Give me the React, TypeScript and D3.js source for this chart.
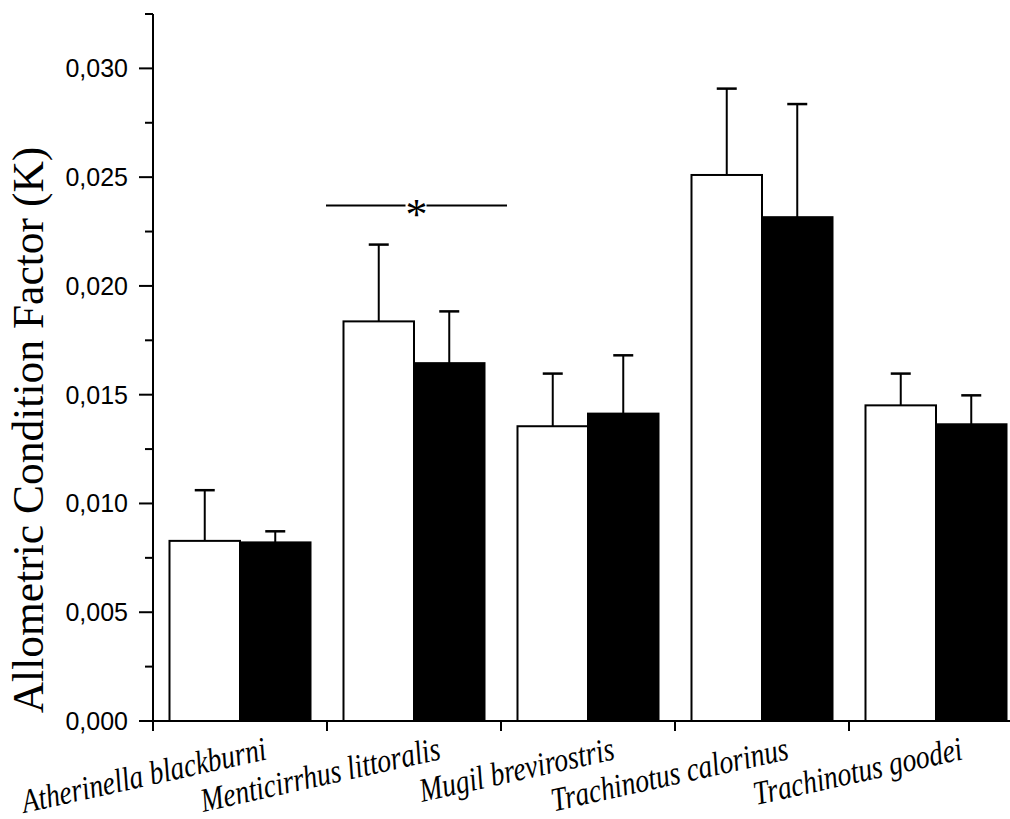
import React from "react";
import * as d3 from "d3";

const categories = [
  "Atherinella blackburni",
  "Menticirrhus littoralis",
  "Mugil brevirostris",
  "Trachinotus calorinus",
  "Trachinotus goodei",
];
const seriesNames = ["open", "filled"];
const openValues = [0.00828, 0.01837, 0.01355, 0.0251, 0.01451];
const openErrors = [0.00233, 0.00353, 0.00242, 0.00397, 0.00146];
const filledValues = [0.00821, 0.01645, 0.01413, 0.02316, 0.01364];
const filledErrors = [0.00051, 0.00238, 0.00268, 0.0052, 0.00133];
const majorTicks = [0, 0.005, 0.01, 0.015, 0.02, 0.025, 0.03];
const minorTicks = [0.0025, 0.0075, 0.0125, 0.0175, 0.0225, 0.0275, 0.0325];
const yLabel = "Allometric Condition Factor (K)";
const sigCategory = "Menticirrhus littoralis";
const sigValue = 0.0237;

const fmt = (v: number) => v.toFixed(3).replace(".", ",");

export default function App() {
  const W = 1010;
  const H = 819;
  const left = 153;
  const bottom = 721;
  const y = d3.scaleLinear().domain([0, 0.0325]).range([bottom, 14]);
  const x0 = d3.scaleBand<string>().domain(categories).range([left, left + 174 * 5]).padding(0);
  const x1 = d3
    .scaleBand<string>()
    .domain(seriesNames)
    .range([0, x0.bandwidth()])
    .paddingInner(0)
    .paddingOuter(0.234);

  const series = [
    { name: "open", values: openValues, errors: openErrors, fill: "#ffffff" },
    { name: "filled", values: filledValues, errors: filledErrors, fill: "#000000" },
  ];

  const xTicks = categories.map((c) => x0(c) as number);
  const sigCenter = (x0(sigCategory) as number) + x0.bandwidth() / 2 + 2.5;
  const sigY = y(sigValue);

  return (
    <svg
      width={W}
      height={H}
      style={{ position: "absolute", left: 0, top: 0, background: "#fff" }}
    >
      <rect x={0} y={0} width={W} height={H} fill="#fff" />
      {/* bars */}
      {series.map((s) =>
        categories.map((c, i) => {
          const bx = (x0(c) as number) + (x1(s.name) as number);
          const bw = x1.bandwidth();
          const top = y(s.values[i]);
          const cx = bx + bw / 2;
          const ey = y(s.values[i] + s.errors[i]);
          return (
            <g key={s.name + c}>
              <line x1={cx} x2={cx} y1={top} y2={ey} stroke="#000" strokeWidth={2} />
              <line x1={cx - 10} x2={cx + 10} y1={ey} y2={ey} stroke="#000" strokeWidth={2.5} />
              <rect
                x={bx}
                y={top}
                width={bw}
                height={bottom - top}
                fill={s.fill}
                stroke="#000"
                strokeWidth={2}
              />
            </g>
          );
        })
      )}
      {/* significance */}
      <line x1={sigCenter - 90.5} x2={sigCenter - 11} y1={sigY} y2={sigY} stroke="#000" strokeWidth={2} />
      <line x1={sigCenter + 10} x2={sigCenter + 90.5} y1={sigY} y2={sigY} stroke="#000" strokeWidth={2} />
      <text
        x={sigCenter}
        y={sigY + 24}
        textAnchor="middle"
        fontFamily="Liberation Serif, Times New Roman, serif"
        fontSize={44}
      >
        *
      </text>
      {/* y axis */}
      <line x1={left} x2={left} y1={y(0.0325)} y2={bottom + 1} stroke="#000" strokeWidth={2} />
      {majorTicks.map((t) => (
        <g key={"M" + t}>
          <line x1={left - 14} x2={left} y1={y(t)} y2={y(t)} stroke="#000" strokeWidth={2} />
          <text
            x={left - 25}
            y={y(t)}
            dy="0.36em"
            textAnchor="end"
            fontFamily="Liberation Sans, Arial, sans-serif"
            fontSize={25}
          >
            {fmt(t)}
          </text>
        </g>
      ))}
      {minorTicks.map((t) => (
        <line key={"m" + t} x1={left - 8} x2={left} y1={y(t)} y2={y(t)} stroke="#000" strokeWidth={2} />
      ))}
      {/* x axis */}
      <line x1={left - 1} x2={W + 20} y1={bottom} y2={bottom} stroke="#000" strokeWidth={2} />
      {xTicks.map((t) => (
        <line key={"x" + t} x1={t} x2={t} y1={bottom} y2={bottom + 10} stroke="#000" strokeWidth={2} />
      ))}
      {categories.map((c) => {
        const ex = (x0(c) as number) + x0.bandwidth() / 2 + 28;
        const ey = 759;
        return (
          <text
            key={"l" + c}
            transform={`translate(${ex},${ey}) rotate(-12.5) scale(1,1.22)`}
            textAnchor="end"
            fontFamily="Liberation Serif, Times New Roman, serif"
            fontStyle="italic"
            fontSize={27.5}
          >
            {c}
          </text>
        );
      })}
      {/* y label */}
      <text
        transform={`translate(43,430) rotate(-90)`}
        textAnchor="middle"
        fontFamily="Liberation Serif, Times New Roman, serif"
        fontSize={43.5}
      >
        {yLabel}
      </text>
    </svg>
  );
}
